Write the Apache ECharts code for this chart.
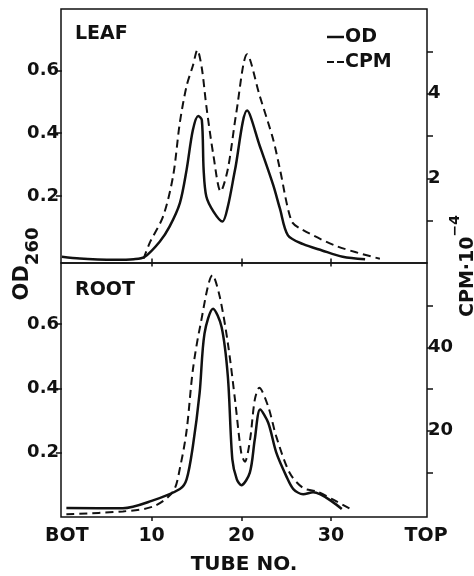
<!DOCTYPE html>
<html>
<head>
<meta charset="utf-8">
<script src="https://cdn.jsdelivr.net/npm/echarts@6/dist/echarts.min.js"></script>
<style>
  html, body { margin: 0; padding: 0; background: #fff; }
  #chart { width: 474px; height: 576px; }
</style>
</head>
<body>
<div id="chart"></div>
<script>
// leaf panel
const leafTube = [0, 2, 4, 6, 8, 9.2, 10.9, 12.0, 13.15, 13.9, 14.6, 15.2, 15.6, 15.8, 16.1, 16.9, 17.9, 18.5, 19.3, 20.65, 22.05, 23.55, 24.3, 25.2, 26.9, 29.0, 31.3, 33.8];
const leafOD = [0.006, 0.0, -0.003, -0.004, -0.002, 0.005, 0.054, 0.102, 0.177, 0.283, 0.41, 0.455, 0.442, 0.283, 0.198, 0.15, 0.118, 0.166, 0.283, 0.472, 0.36, 0.235, 0.16, 0.074, 0.046, 0.026, 0.006, -0.002];
const leafCpmTube = [9.1, 9.8, 11.3, 12.4, 13.15, 13.9, 14.6, 15.1, 15.6, 16.1, 16.9, 17.7, 18.5, 19.45, 20.65, 22.05, 23.55, 24.3, 25.6, 26.7, 30.6, 35.45];
const leafCpm = [0.1, 0.48, 1.11, 2.06, 3.32, 4.18, 4.66, 5.03, 4.6, 3.71, 2.53, 1.69, 2.22, 3.56, 4.93, 3.95, 2.92, 2.22, 0.99, 0.8, 0.4, 0.1];

// root panel
const rootTube = [0.5, 6.8, 10, 13.15, 13.9, 14.6, 15.35, 15.9, 16.85, 17.8, 18.5, 19.0, 19.5, 20.0, 20.95, 21.5, 22.1, 23.0, 23.9, 25.0, 25.8, 26.9, 28.0, 31.2];
const rootOD = [0.028, 0.027, 0.05, 0.087, 0.117, 0.22, 0.385, 0.571, 0.648, 0.591, 0.437, 0.179, 0.117, 0.099, 0.138, 0.241, 0.334, 0.293, 0.2, 0.128, 0.087, 0.071, 0.077, 0.025];
const rootCpmTube = [0.5, 6.8, 10.2, 12.4, 13.2, 13.9, 14.6, 15.4, 16.8, 17.6, 18.5, 19.3, 20.0, 20.4, 20.97, 21.5, 22.0, 23.0, 23.9, 25.4, 26.9, 28.4, 30.25, 32.3];
const rootCpm = [0.0, 0.67, 1.87, 5.45, 11.5, 20.0, 34.6, 44.9, 57.3, 52.1, 41.0, 27.4, 14.6, 12.6, 17.8, 27.4, 30.3, 25.8, 18.6, 9.86, 6.27, 5.45, 3.47, 1.08];

// axes
const xTicks = [10, 20, 30];
const xEndLabels = ["BOT", "TOP"];
const odTicks = [0.2, 0.4, 0.6];
const leafCpmTicks = [1, 2, 3, 4, 5];
const leafCpmLabels = [2, 4];
const rootCpmTicks = [10, 20, 30, 40, 50];
const rootCpmLabels = [20, 40];

const zip = (xs, ys) => xs.map((x, i) => [x, ys[i]]);

const ink = "#111";
const font = "DejaVu Sans";
const labelStyle = { color: ink, fontFamily: font, fontWeight: "bold", fontSize: 18 };
const dash = [8, 5];

const chart = echarts.init(document.getElementById("chart"));

const xBase = {
  type: "value", min: -0.1, max: 40.7,
  axisLine: { show: false }, splitLine: { show: false }
};
const yBase = {
  type: "value", axisLine: { show: false }, splitLine: { show: false }
};

chart.setOption({
  animation: false,
  backgroundColor: "#fff",
  grid: [
    { left: 61, right: 47, top: 9, height: 254, show: true, borderColor: ink, borderWidth: 1.5 },
    { left: 61, right: 47, top: 263, height: 254, show: true, borderColor: ink, borderWidth: 1.5 }
  ],
  legend: {
    orient: "vertical", left: 327, top: 27, padding: 0,
    itemWidth: 17, itemHeight: 2.5, itemGap: 5,
    itemStyle: { color: ink, borderWidth: 0 },
    data: [
      { name: "OD", icon: "rect" },
      { name: "CPM", icon: "path://M0,0h7v2h-7zM10,0h7v2h-7z" }
    ],
    textStyle: { color: ink, fontFamily: font, fontWeight: "bold", fontSize: 19, lineHeight: 20, padding: [0, 0, 0, -4] }
  },
  xAxis: [
    {
      ...xBase, gridIndex: 0,
      axisTick: { customValues: xTicks, length: 8, lineStyle: { color: ink, width: 1.5 } },
      axisLabel: { show: false }
    },
    {
      ...xBase, gridIndex: 1,
      axisTick: { customValues: xTicks, length: 4, lineStyle: { color: ink, width: 1.5 } },
      axisLabel: {
        ...labelStyle, fontSize: 19, margin: 10,
        customValues: [0.55, ...xTicks, 40.6],
        formatter: (v) => (v < 5 ? xEndLabels[0] : v > 35 ? xEndLabels[1] : String(v))
      },
      name: "TUBE NO.", nameLocation: "middle", nameGap: 38,
      nameTextStyle: { ...labelStyle, fontSize: 20 }
    }
  ],
  yAxis: [
    {
      ...yBase, gridIndex: 0, position: "left", min: -0.014, max: 0.796,
      axisTick: { customValues: odTicks, length: 6, lineStyle: { color: ink, width: 1.5 } },
      axisLabel: { ...labelStyle, customValues: odTicks, margin: 2, formatter: (v) => v.toFixed(1) }
    },
    {
      ...yBase, gridIndex: 0, position: "right", min: 0, max: 6,
      axisTick: { customValues: leafCpmTicks, length: 6, lineStyle: { color: ink, width: 1.5 } },
      axisLabel: { ...labelStyle, customValues: leafCpmLabels, margin: 1 }
    },
    {
      ...yBase, gridIndex: 1, position: "left", min: 0, max: 0.79,
      axisTick: { customValues: odTicks, length: 6, lineStyle: { color: ink, width: 1.5 } },
      axisLabel: { ...labelStyle, customValues: odTicks, margin: 2, formatter: (v) => v.toFixed(1) }
    },
    {
      ...yBase, gridIndex: 1, position: "right", min: -0.67, max: 60.2,
      axisTick: { customValues: rootCpmTicks, length: 6, lineStyle: { color: ink, width: 1.5 } },
      axisLabel: { ...labelStyle, customValues: rootCpmLabels, margin: 1 }
    }
  ],
  series: [
    { name: "OD", type: "line", xAxisIndex: 0, yAxisIndex: 0, data: zip(leafTube, leafOD),
      symbol: "none", smooth: 0.3, lineStyle: { color: ink, width: 2.5 }, itemStyle: { color: ink } },
    { name: "CPM", type: "line", xAxisIndex: 0, yAxisIndex: 1, data: zip(leafCpmTube, leafCpm),
      symbol: "none", smooth: 0.3, lineStyle: { color: ink, width: 2, type: dash }, itemStyle: { color: ink } },
    { name: "OD", type: "line", xAxisIndex: 1, yAxisIndex: 2, data: zip(rootTube, rootOD),
      symbol: "none", smooth: 0.3, lineStyle: { color: ink, width: 2.5 }, itemStyle: { color: ink } },
    { name: "CPM", type: "line", xAxisIndex: 1, yAxisIndex: 3, data: zip(rootCpmTube, rootCpm),
      symbol: "none", smooth: 0.3, lineStyle: { color: ink, width: 2, type: dash }, itemStyle: { color: ink } }
  ],
  graphic: [
    { type: "text", left: 75, top: 25, style: { text: "LEAF", fill: ink, font: "bold 19px " + font } },
    { type: "text", left: 75, top: 281, style: { text: "ROOT", fill: ink, font: "bold 19px " + font } },
    {
      type: "text", x: 27, y: 264, rotation: Math.PI / 2,
      style: {
        text: "{a|OD}{b|260}", align: "center", verticalAlign: "middle", fill: ink,
        rich: {
          a: { fontFamily: font, fontWeight: "bold", fontSize: 21, lineHeight: 30, verticalAlign: "top" },
          b: { fontFamily: font, fontWeight: "bold", fontSize: 18, lineHeight: 30, verticalAlign: "bottom" }
        }
      }
    },
    {
      type: "text", x: 463, y: 266, rotation: Math.PI / 2,
      style: {
        text: "{a|CPM·10}{b|−4}", align: "center", verticalAlign: "middle", fill: ink,
        rich: {
          a: { fontFamily: font, fontWeight: "bold", fontSize: 19, lineHeight: 30, verticalAlign: "bottom" },
          b: { fontFamily: font, fontWeight: "bold", fontSize: 14, lineHeight: 30, verticalAlign: "top" }
        }
      }
    }
  ]
});
</script>
</body>
</html>
